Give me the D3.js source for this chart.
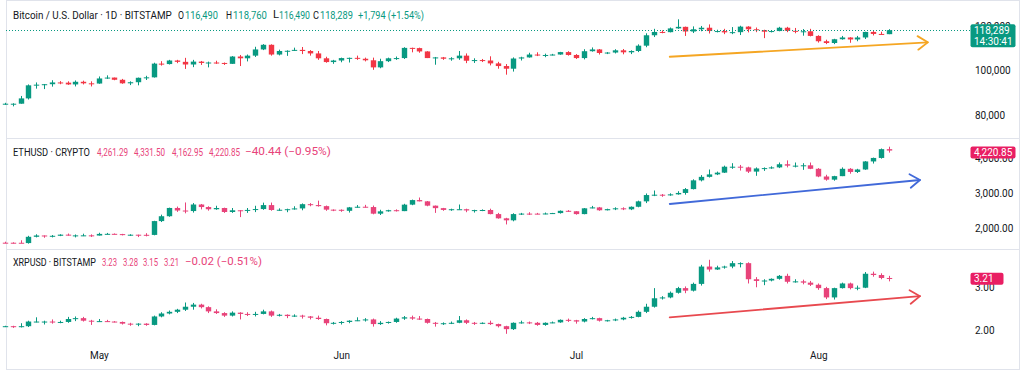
<!DOCTYPE html>
<html><head><meta charset="utf-8">
<script src="https://cdn.jsdelivr.net/npm/d3@7"></script>
<style>html,body{margin:0;padding:0;background:#fff;overflow:hidden}svg{display:block;font-family:Roboto,"Noto Sans",sans-serif}</style>
</head><body><svg id="c" width="1024" height="379"></svg>
<script>
// ---------- DATA ----------
const firstDay = "2025-04-19";
const lastDay = "2025-08-10";
const monthTicks = ["2025-05-01","2025-06-01","2025-07-01","2025-08-01"];
const monthLabels = ["May","Jun","Jul","Aug"];

// Bitcoin daily OHLC, thousands of USD
const btcK = [
[84.9,85.5,84.6,85.1],[85.1,85.3,83.9,85.1],[85.1,88.6,85.1,87.5],[87.5,93.8,87.0,93.4],[93.4,94.7,91.9,93.7],[93.7,94.0,91.7,93.9],[93.9,95.7,92.8,94.7],[94.7,95.3,93.9,94.6],[94.6,95.2,93.6,93.8],[93.8,95.6,92.9,95.0],[95.0,95.5,93.8,94.3],[94.3,95.2,92.9,94.2],
[94.2,97.4,94.1,96.5],[96.5,97.9,96.3,96.9],[96.9,96.9,95.7,95.9],[95.9,96.3,94.1,94.3],[94.3,95.2,93.5,94.8],[94.8,96.9,93.4,96.8],[96.8,97.7,95.8,97.0],[97.0,103.6,96.9,103.2],[103.2,104.3,102.3,103.0],[103.0,104.9,102.8,104.6],
[104.6,104.9,103.4,104.0],[104.0,105.8,100.8,102.8],[102.8,104.9,101.6,104.1],[104.1,104.4,102.6,103.5],[103.5,104.1,101.5,103.7],[103.7,104.5,103.1,103.5],[103.5,103.7,102.6,103.1],[103.1,106.6,103.1,106.4],[106.4,107.1,102.1,105.6],[105.6,107.3,104.2,106.8],
[106.8,110.8,106.2,109.6],[109.6,112.0,109.3,111.7],[111.7,111.9,106.8,107.3],[107.3,109.5,106.9,108.9],[108.9,109.2,106.7,109.0],[109.0,110.4,108.9,109.4],[109.4,110.7,107.5,108.9],[108.9,109.3,106.8,107.8],[107.8,108.9,104.9,105.6],[105.6,106.3,103.6,103.9],
[103.9,104.9,103.1,104.6],
[104.6,105.9,103.8,105.7],[105.7,105.9,103.7,105.8],[105.8,106.8,104.9,105.4],[105.4,105.9,104.2,104.7],[104.7,105.9,100.4,101.5],[101.5,105.4,101.1,104.3],[104.3,105.9,103.9,105.6],[105.6,106.4,104.9,105.7],[105.7,110.6,105.3,110.3],[110.3,110.4,108.3,110.2],
[110.2,110.4,108.1,108.7],[108.7,108.8,105.7,105.7],[105.7,106.2,102.7,106.0],[106.0,106.2,104.9,105.4],[105.4,106.1,104.5,105.6],[105.6,108.9,104.9,106.8],[106.8,107.8,103.4,104.5],[104.5,105.6,103.5,104.8],[104.8,105.3,103.9,104.6],[104.6,106.5,102.4,103.3],
[103.3,104.0,100.9,102.1],[102.1,103.0,98.2,100.9],[100.9,106.0,99.6,105.5],[105.5,106.3,104.6,106.0],[106.0,108.1,105.9,107.3],[107.3,108.3,106.6,106.9],[106.9,107.7,106.1,107.1],[107.1,107.6,106.9,107.3],[107.3,108.5,107.2,108.4],[108.4,108.8,106.8,107.1],
[107.1,107.5,105.3,105.7],[105.7,109.7,105.1,108.8],[108.8,110.5,108.6,109.6],[109.6,109.8,107.3,108.0],[108.0,108.4,107.5,108.2],[108.2,109.7,107.8,109.2],[109.2,109.8,107.4,108.3],[108.3,109.2,107.5,108.9],[108.9,111.9,108.4,111.3],[111.3,116.9,110.6,116.0],
[116.0,118.9,115.2,117.5],[117.5,118.2,116.9,117.4],[117.4,119.5,117.3,119.1],[119.1,123.2,118.9,119.8],[119.8,119.9,115.7,117.7],[117.7,120.0,117.0,118.7],[118.7,120.2,117.8,119.4],[119.4,120.9,116.8,117.9],[117.9,118.5,117.3,117.9],[117.9,118.9,116.5,117.3],
[117.3,119.7,116.5,117.4],[117.4,120.3,116.1,119.9],[119.9,120.1,117.3,118.7],[118.7,119.5,117.4,118.3],[118.3,118.5,114.7,117.6],[117.6,118.3,117.3,117.9],[117.9,119.8,117.8,119.4],[119.4,119.8,117.4,118.0],[118.0,119.3,116.9,117.8],[117.8,118.8,115.8,117.8],
[117.8,118.9,115.5,115.7],
[115.7,116.0,112.7,113.3],[113.3,114.0,112.0,112.5],[112.5,114.4,112.0,114.2],[114.2,115.7,114.0,115.0],[115.0,115.1,112.6,114.1],[114.1,115.7,113.3,115.0],[115.0,117.6,114.3,117.5],[117.5,117.9,115.9,116.6],[116.6,117.6,116.3,116.495],[116.49,118.76,116.49,118.289]
];

// Ethereum daily OHLC, USD
const ethUsd = [
[1589,1617,1575,1588],[1588,1600,1565,1587],[1587,1658,1575,1578],[1578,1785,1562,1757],[1757,1830,1740,1795],[1795,1796,1730,1771],[1771,1807,1740,1786],[1786,1830,1776,1819],[1819,1850,1790,1792],[1792,1824,1740,1798],[1798,1846,1777,1799],[1799,1826,1753,1793],
[1793,1873,1793,1840],[1840,1868,1825,1842],[1842,1853,1827,1834],[1834,1841,1797,1807],[1807,1830,1784,1817],[1817,1819,1749,1814],[1814,1860,1770,1811],[1811,2214,1800,2206],[2206,2390,2179,2345],[2345,2590,2330,2581],
[2581,2621,2469,2508],[2508,2738,2428,2493],[2493,2721,2449,2680],[2680,2695,2540,2607],[2607,2630,2504,2544],[2544,2644,2529,2580],[2580,2590,2440,2466],[2466,2580,2440,2515],[2515,2520,2320,2502],[2502,2580,2440,2525],
[2525,2644,2463,2550],[2550,2733,2528,2663],[2663,2735,2501,2523],[2523,2570,2500,2530],[2530,2560,2460,2546],[2546,2630,2533,2568],[2568,2710,2515,2689],[2689,2720,2630,2664],[2664,2790,2620,2633],[2633,2650,2500,2533],
[2533,2540,2490,2529],
[2529,2540,2471,2500],[2500,2610,2450,2598],[2598,2664,2592,2616],[2616,2670,2595,2607],[2607,2650,2400,2418],[2418,2530,2380,2485],[2485,2530,2475,2517],[2517,2541,2480,2491],[2491,2700,2490,2676],[2676,2820,2660,2806],
[2806,2880,2770,2770],[2770,2780,2630,2647],[2647,2650,2440,2576],[2576,2583,2500,2525],[2525,2560,2500,2545],[2545,2680,2530,2545],[2545,2560,2460,2510],[2510,2530,2450,2520],[2520,2540,2490,2523],[2523,2560,2400,2406],
[2406,2440,2275,2285],[2285,2300,2110,2228],[2228,2430,2200,2406],[2406,2440,2380,2420],[2420,2460,2380,2419],[2419,2440,2400,2417],[2417,2450,2400,2424],[2424,2440,2410,2435],[2435,2510,2420,2500],[2500,2520,2470,2487],
[2487,2490,2390,2406],[2406,2580,2400,2571],[2571,2640,2570,2597],[2597,2610,2500,2515],[2515,2560,2510,2548],[2548,2600,2520,2571],[2571,2600,2520,2542],[2542,2625,2520,2615],[2615,2790,2600,2770],[2770,2995,2720,2950],
[2950,3080,2920,2960],[2960,2980,2900,2940],[2940,3000,2930,2970],[2970,3060,2960,3010],[3010,3150,2960,3120],[3120,3400,3110,3370],[3370,3520,3340,3470],[3470,3680,3450,3540],[3540,3620,3520,3590],[3590,3790,3580,3760],
[3760,3860,3700,3760],[3760,3810,3650,3740],[3740,3760,3580,3620],[3620,3740,3500,3710],[3710,3740,3640,3720],[3720,3770,3700,3740],[3740,3880,3720,3830],[3830,3940,3740,3790],[3790,3880,3740,3790],[3790,3860,3670,3800],
[3800,3880,3690,3700],
[3700,3720,3460,3480],[3480,3530,3360,3390],[3390,3500,3360,3490],[3490,3740,3490,3700],[3700,3720,3560,3610],[3610,3700,3580,3680],[3680,3920,3670,3910],[3910,4020,3850,4010],[4010,4280,3990,4261.29],[4261.29,4331.5,4162.95,4220.85]
];

// XRP daily OHLC, USD
const xrpUsd = [
[2.08,2.10,2.07,2.09],[2.09,2.10,2.05,2.07],[2.07,2.16,2.06,2.09],[2.09,2.22,2.07,2.20],[2.20,2.30,2.18,2.20],[2.20,2.22,2.13,2.20],[2.20,2.25,2.15,2.19],[2.19,2.22,2.16,2.19],[2.19,2.31,2.17,2.26],[2.26,2.32,2.21,2.28],[2.28,2.31,2.20,2.22],[2.22,2.24,2.12,2.21],
[2.21,2.26,2.19,2.21],[2.21,2.24,2.19,2.20],[2.20,2.21,2.18,2.19],[2.19,2.20,2.13,2.15],[2.15,2.17,2.10,2.14],[2.14,2.16,2.09,2.15],[2.15,2.16,2.10,2.12],[2.12,2.34,2.11,2.32],[2.32,2.42,2.30,2.39],[2.39,2.46,2.37,2.43],
[2.43,2.50,2.40,2.48],[2.48,2.65,2.45,2.55],[2.55,2.64,2.48,2.60],[2.60,2.62,2.51,2.54],[2.54,2.56,2.40,2.44],[2.44,2.49,2.38,2.40],[2.40,2.42,2.31,2.34],[2.34,2.44,2.32,2.41],[2.41,2.42,2.25,2.38],[2.38,2.42,2.33,2.37],
[2.37,2.43,2.32,2.38],[2.38,2.48,2.37,2.44],[2.44,2.46,2.31,2.34],[2.34,2.38,2.32,2.36],[2.36,2.37,2.28,2.33],[2.33,2.37,2.31,2.34],[2.34,2.36,2.27,2.32],[2.32,2.33,2.25,2.29],[2.29,2.34,2.24,2.26],[2.26,2.27,2.11,2.16],
[2.16,2.19,2.13,2.17],
[2.17,2.21,2.13,2.19],[2.19,2.23,2.16,2.22],[2.22,2.30,2.21,2.23],[2.23,2.28,2.20,2.25],[2.25,2.27,2.08,2.14],[2.14,2.21,2.12,2.17],[2.17,2.20,2.15,2.19],[2.19,2.29,2.17,2.27],[2.27,2.33,2.24,2.30],[2.30,2.34,2.24,2.27],
[2.27,2.33,2.24,2.26],[2.26,2.27,2.15,2.17],[2.17,2.19,2.08,2.15],[2.15,2.18,2.12,2.16],[2.16,2.20,2.14,2.17],[2.17,2.33,2.16,2.23],[2.23,2.25,2.14,2.17],[2.17,2.19,2.12,2.16],[2.16,2.18,2.14,2.17],[2.17,2.22,2.12,2.14],
[2.14,2.15,2.06,2.09],[2.09,2.10,1.91,2.02],[2.02,2.18,2.00,2.17],[2.17,2.22,2.15,2.18],[2.18,2.20,2.14,2.17],[2.17,2.19,2.10,2.12],[2.12,2.18,2.10,2.17],[2.17,2.20,2.16,2.18],[2.18,2.25,2.17,2.24],[2.24,2.27,2.19,2.23],
[2.23,2.24,2.15,2.20],[2.20,2.28,2.18,2.26],[2.26,2.31,2.25,2.28],[2.28,2.29,2.20,2.22],[2.22,2.24,2.20,2.23],[2.23,2.27,2.21,2.25],[2.25,2.31,2.23,2.29],[2.29,2.33,2.27,2.31],[2.31,2.46,2.30,2.43],[2.43,2.62,2.40,2.55],
[2.55,2.99,2.53,2.75],[2.75,2.80,2.72,2.77],[2.77,2.91,2.75,2.88],[2.88,3.02,2.86,2.99],[2.99,3.03,2.87,2.93],[2.93,3.12,2.91,3.09],[3.09,3.54,3.05,3.50],[3.50,3.66,3.38,3.43],[3.43,3.52,3.42,3.48],[3.48,3.52,3.45,3.50],
[3.50,3.63,3.46,3.58],[3.58,3.60,3.48,3.58],[3.58,3.60,3.10,3.20],[3.20,3.25,3.01,3.16],[3.16,3.20,3.06,3.17],[3.17,3.22,3.15,3.21],[3.21,3.30,3.19,3.28],[3.28,3.33,3.10,3.14],[3.14,3.20,3.12,3.15],[3.15,3.19,3.08,3.12],
[3.12,3.16,3.04,3.07],
[3.07,3.10,2.95,2.99],[2.99,3.02,2.73,2.77],[2.77,3.00,2.72,2.99],[2.99,3.12,2.98,3.10],[3.10,3.12,2.96,2.99],[2.99,3.05,2.94,3.00],[3.00,3.37,2.99,3.33],[3.33,3.38,3.26,3.30],[3.30,3.34,3.20,3.23],[3.23,3.28,3.15,3.21]
];

const btcTicks = [80, 100, 120];          // thousands
const ethTicks = [2000, 3000, 4000];
const xrpTicks = [2, 3];

// trend arrows: [startDate, startValue, endDate, endValue]
const btcArrow = ["2025-07-13", 106.3, "2025-08-15", 112.8];
const ethArrow = ["2025-07-13", 2694, "2025-08-14", 3380];
const xrpArrow = ["2025-07-13", 2.30, "2025-08-14", 2.80];

// header texts
const btcTitle = "Bitcoin / U.S. Dollar · 1D · BITSTAMP";
const btcLegend = [["O","116,490"],["H","118,760"],["L","116,490"],["C","118,289"]];
const btcChange = "+1,794 (+1.54%)";
const ethTitle = "ETHUSD · CRYPTO";
const ethLegend = ["4,261.29","4,331.50","4,162.95","4,220.85"];
const ethChange = "−40.44 (−0.95%)";
const xrpTitle = "XRPUSD · BITSTAMP";
const xrpLegend = ["3.23","3.28","3.15","3.21"];
const xrpChange = "−0.02 (−0.51%)";
const btcTagTime = "14:30:41";

// ---------- DRAW ----------
const svg = d3.select("#c");
const DARK = "#131722", GREEN = "#089981", RED = "#f23645", PINK = "#e8437a", GRID = "#e0e3eb";
const parse = d3.utcParse("%Y-%m-%d");
const dates = d3.utcDay.range(parse(firstDay), d3.utcDay.offset(parse(lastDay), 1));

const x = d3.scaleUtc().domain([parse(firstDay), parse(lastDay)]).range([5, 888.7]);

svg.append("rect").attr("x",0).attr("y",0).attr("width",1024).attr("height",379).attr("fill","#fff");

// frame + separators
const frame = svg.append("g").attr("stroke", GRID).attr("fill","none");
frame.append("rect").attr("x",6.5).attr("y",0.5).attr("width",1013).attr("height",369);
frame.append("line").attr("x1",6).attr("x2",1020).attr("y1",138.5).attr("y2",138.5);
frame.append("line").attr("x1",6).attr("x2",1020).attr("y1",249.5).attr("y2",249.5);

const panels = [
  {data: btcK, ticks: btcTicks, domain:[80,120], range:[115,26.4], fmt: v => d3.format(",")(v*1000),
   up: GREEN, down: RED, arrow: btcArrow, arrowColor: "#f5a623", tagColor: GREEN},
  {data: ethUsd, ticks: ethTicks, domain:[2000,4000], range:[228.3,158.3], fmt: d3.format(",.2f"),
   up: GREEN, down: PINK, arrow: ethArrow, arrowColor: "#4169d9", tagColor: "#e91e63"},
  {data: xrpUsd, ticks: xrpTicks, domain:[2,3], range:[330,287.7], fmt: d3.format(".2f"),
   up: GREEN, down: PINK, arrow: xrpArrow, arrowColor: "#e8494f", tagColor: "#e91e63"}
];

panels.forEach((p, pi) => {
  const y = d3.scaleLinear().domain(p.domain).range(p.range);
  p.y = y;
  // price axis labels
  const ax = svg.append("g").attr("transform","translate(975,0)")
    .call(d3.axisRight(y).tickValues(p.ticks).tickFormat(p.fmt).tickSize(0).tickPadding(0));
  ax.select(".domain").remove();
  ax.selectAll("text").attr("fill", DARK).style("font-size","10px").style("font-family","Roboto, sans-serif");

  // candles
  const g = svg.append("g");
  const rows = p.data.map((d,i) => ({date: dates[i], o:d[0], h:d[1], l:d[2], c:d[3]}));
  const bw = 5.4;
  g.selectAll("line.w").data(rows).join("line")
    .attr("x1", d => Math.round(x(d.date)) + 0.5).attr("x2", d => Math.round(x(d.date)) + 0.5)
    .attr("y1", d => y(d.h)).attr("y2", d => y(d.l))
    .attr("stroke", d => d.c >= d.o ? p.up : p.down).attr("stroke-width", 1);
  g.selectAll("rect.b").data(rows).join("rect")
    .attr("x", d => Math.round(x(d.date)) + 0.5 - bw/2)
    .attr("width", bw)
    .attr("y", d => Math.min(y(d.o), y(d.c)))
    .attr("height", d => Math.max(1, Math.abs(y(d.o) - y(d.c))))
    .attr("fill", d => d.c >= d.o ? p.up : p.down);

  // arrow
  const a = p.arrow;
  const x0 = x(parse(a[0])), y0 = y(a[1]), x1 = x(parse(a[2])), y1 = y(a[3]);
  const ang = Math.atan2(y1 - y0, x1 - x0), L = 12, spread = 0.6;
  const ag = svg.append("g").attr("stroke", p.arrowColor).attr("stroke-width", 1.8).attr("fill","none")
    .attr("stroke-linecap","round").attr("stroke-linejoin","round");
  ag.append("line").attr("x1",x0).attr("y1",y0).attr("x2",x1).attr("y2",y1);
  ag.append("polyline").attr("points", [
    [x1 - L*Math.cos(ang - spread), y1 - L*Math.sin(ang - spread)],
    [x1, y1],
    [x1 - L*Math.cos(ang + spread), y1 - L*Math.sin(ang + spread)]
  ].map(q => q.join(",")).join(" "));
});

// BTC dotted last-price line
const btcLast = btcK[btcK.length-1][3];
svg.append("line").attr("x1",6).attr("x2",970).attr("y1",Math.round(panels[0].y(btcLast))+0.5).attr("y2",Math.round(panels[0].y(btcLast))+0.5)
  .attr("stroke", GREEN).attr("stroke-width",1).attr("stroke-dasharray","1,2");

// price tags
function tag(p, value, label, extra, dy) {
  const yc = p.y(value) + (dy || 0);
  const h = extra ? 23 : 12;
  const w = label.length > 5 ? 45 : 33;
  svg.append("rect").attr("x",970.5).attr("y", yc - 6).attr("width", w).attr("height", h).attr("rx",2).attr("fill", p.tagColor);
  svg.append("text").attr("x",974).attr("y",yc).attr("dominant-baseline","central").attr("fill","#fff")
    .style("font-size","10px").text(label);
  if (extra) svg.append("text").attr("x",974).attr("y",yc+11).attr("dominant-baseline","central").attr("fill","#fff")
    .style("font-size","10px").text(extra);
}
tag(panels[0], btcLast, d3.format(",")(Math.round(btcLast*1000)), btcTagTime);
tag(panels[1], ethUsd[ethUsd.length-1][3], d3.format(",.2f")(ethUsd[ethUsd.length-1][3]), null, 2);
tag(panels[2], xrpUsd[xrpUsd.length-1][3], d3.format(".2f")(xrpUsd[xrpUsd.length-1][3]));

// headers: each text is squeezed horizontally to the width it has in the reference
function seg(xp, yp, s, fill, w) {
  const g = svg.append("g");
  const t = g.append("text").attr("x",0).attr("y",0).attr("dominant-baseline","central")
    .attr("fill",fill).style("font-size","10.5px").text(s);
  const len = t.node().getComputedTextLength();
  const k = w ? w / len : 1;
  g.attr("transform", `translate(${xp},${yp}) scale(${k},1)`);
  return g;
}
seg(13, 15, btcTitle, DARK, 159);
const btcPos = [[178,185,33],[226,233,34],[273,279,31],[313,320,33]];
btcLegend.forEach((d,i) => { seg(btcPos[i][0],15,d[0],DARK,6); seg(btcPos[i][1],15,d[1],GREEN,btcPos[i][2]); });
seg(358, 15, btcChange, GREEN, 66);

seg(13, 152, ethTitle, DARK, 77);
[97,134,172,209].forEach((xp,i) => seg(xp,152,ethLegend[i],PINK,31));
seg(245, 152, ethChange, PINK, 86);

seg(13, 262, xrpTitle, DARK, 83);
[102,123,143,164].forEach((xp,i) => seg(xp,262,xrpLegend[i],PINK,15));
seg(185, 262, xrpChange, PINK, 77);

// time axis
const tx = svg.append("g").attr("transform","translate(0,352)")
  .call(d3.axisBottom(x).tickValues(monthTicks.map(parse)).tickFormat((d,i) => monthLabels[i]).tickSize(0).tickPadding(0));
tx.select(".domain").remove();
tx.selectAll("text").attr("fill", DARK).style("font-size","10px").style("font-family","Roboto, sans-serif");
</script></body></html>
